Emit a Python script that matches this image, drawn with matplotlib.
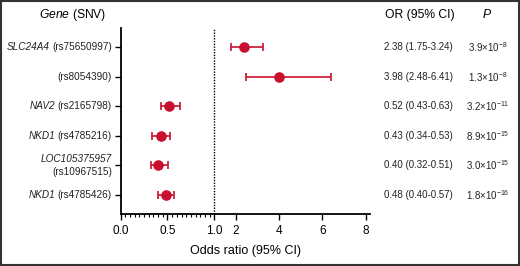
import numpy as np
import matplotlib
matplotlib.use("Agg")
import matplotlib.pyplot as plt
from matplotlib.patches import Rectangle
from matplotlib.transforms import blended_transform_factory, offset_copy

plt.rcParams['font.family'] = ['Liberation Sans', 'DejaVu Sans']
plt.rcParams['mathtext.fontset'] = 'custom'
plt.rcParams['mathtext.rm'] = 'Liberation Sans'
plt.rcParams['mathtext.it'] = 'Liberation Sans:italic'

# data
genes = ['SLC24A4', '', 'NAV2', 'NKD1', 'LOC105375957', 'NKD1']
snvs = ['rs75650997', 'rs8054390', 'rs2165798', 'rs4785216', 'rs10967515', 'rs4785426']
odds = [2.38, 3.98, 0.52, 0.43, 0.40, 0.48]
ci_low = [1.75, 2.48, 0.43, 0.34, 0.32, 0.40]
ci_high = [3.24, 6.41, 0.63, 0.53, 0.51, 0.57]
p_mant = ['3.9', '1.3', '3.2', '8.9', '3.0', '1.8']
p_exp = [-8, -8, -11, -15, -15, -16]

red = '#c8102e'
txt = '#222222'

# 0-1 stretched, 1-8 compressed
k = 21.6 / 93.5
def fwd(x):
    x = np.asarray(x, dtype=float)
    return np.where(x <= 1, x, 1 + (x - 1) * k)
def inv(y):
    y = np.asarray(y, dtype=float)
    return np.where(y <= 1, y, 1 + (y - 1) / k)

fig = plt.figure(figsize=(5.2, 2.66), dpi=100)
ax = fig.add_axes([0.232, 0.1955, 0.4796, 0.699])
ax.set_xscale('function', functions=(fwd, inv))

y = np.arange(len(odds))
odds_a = np.array(odds)
xerr = [odds_a - np.array(ci_low), np.array(ci_high) - odds_a]
ax.errorbar(odds, y, xerr=xerr, fmt='o', color=red, ms=6.6, elinewidth=1.2,
            capsize=3, capthick=1.2, zorder=3)
ax.axvline(1, color='black', ls=(0, (1, 1)), lw=1, zorder=1)

ax.set_xlim(0, 8.2)
ax.set_ylim(len(odds) - 0.35, -0.65)

ax.set_xticks([0, 0.5, 1.0, 2, 4, 6, 8])
ax.set_xticklabels(['0.0', '0.5', '1.0', '2', '4', '6', '8'], fontsize=8.5)
ax.set_xticks(np.arange(0, 1.0001, 0.05), minor=True)
ax.tick_params(axis='x', which='major', length=4, width=1, pad=4)
ax.tick_params(axis='x', which='minor', length=2, width=0.8)

ax.set_yticks(y)
ax.set_yticklabels([''] * len(y))
ax.tick_params(axis='y', length=4, width=1)

for side in ['top', 'right']:
    ax.spines[side].set_visible(False)
for side in ['left', 'bottom']:
    ax.spines[side].set_linewidth(1.3)

ax.set_xlabel('Odds ratio (95% CI)', fontsize=9, labelpad=6)

# row labels: italic gene + plain SNV
tr = blended_transform_factory(fig.transFigure, ax.transData)
renderer = fig.canvas.get_renderer()
xr = 112 / 520
fs = 7.2
for i in range(len(y)):
    g, s = genes[i], snvs[i]
    if len(g) > 8:
        ax.text(xr, y[i], g, transform=offset_copy(tr, fig, y=6.3, units='dots'),
                ha='right', va='center', fontsize=fs, style='italic', color=txt)
        ax.text(xr, y[i], f'({s})', transform=offset_copy(tr, fig, y=-6.3, units='dots'),
                ha='right', va='center', fontsize=fs, color=txt)
        continue
    t = ax.text(xr, y[i], f'({s})', transform=tr, ha='right', va='center',
                fontsize=fs, color=txt)
    if g:
        w = t.get_window_extent(renderer).width
        ax.text(xr, y[i], g, transform=offset_copy(tr, fig, x=-(w + 2.5), units='dots'),
                ha='right', va='center', fontsize=fs, style='italic', color=txt)

# headers
fig.text(0.140, 0.944, '$\\mathit{Gene}$ (SNV)', ha='center', va='center', fontsize=8.7)
fig.text(0.808, 0.944, 'OR (95% CI)', ha='center', va='center', fontsize=8.7)
fig.text(0.937, 0.944, '$\\mathit{P}$', ha='center', va='center', fontsize=8.7)

# right-hand columns
for i in range(len(odds)):
    ax.text(0.804, y[i], f'{odds[i]:.2f} ({ci_low[i]:.2f}-{ci_high[i]:.2f})',
            transform=tr, ha='center', va='center', fontsize=7, color=txt)
    ax.text(0.938, y[i], f'{p_mant[i]}×10$^{{{p_exp[i]}}}$',
            transform=tr, ha='center', va='center', fontsize=7, color=txt)

fig.patches.append(Rectangle((0.002, 0.003), 0.996, 0.994, transform=fig.transFigure,
                             fill=False, edgecolor='#333333', linewidth=1.5))

fig.savefig('out.png', dpi=100)
